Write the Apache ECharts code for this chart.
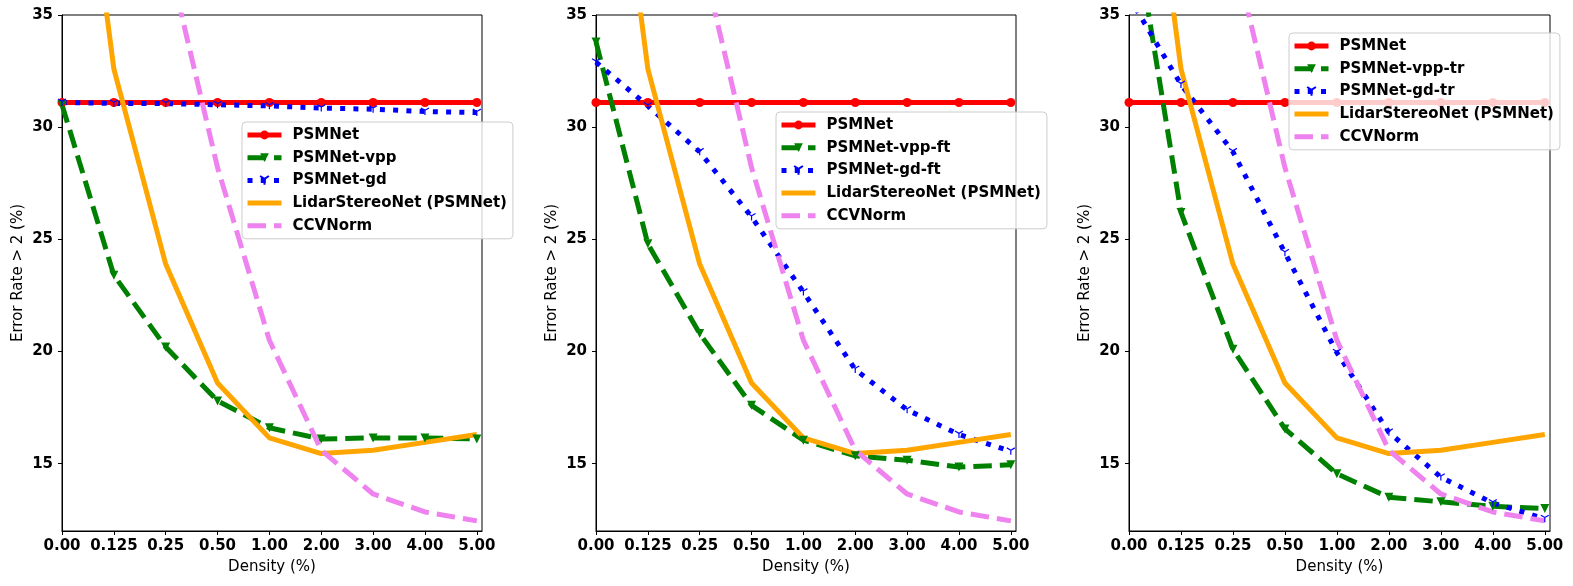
<!DOCTYPE html>
<html>
<head>
<meta charset="utf-8">
<script src="https://cdn.jsdelivr.net/npm/echarts@6/dist/echarts.min.js"></script>
<style>html,body{margin:0;padding:0;background:#fff}#c{width:1573px;height:586px}</style>
</head>
<body>
<div id="c"></div>
<script>
// ---- data ----
const categories = ['0.00','0.125','0.25','0.50','1.00','2.00','3.00','4.00','5.00'];
const yTicks = [15, 20, 25, 30, 35];
const psmnet  = [31.1, 31.1, 31.1, 31.1, 31.1, 31.1, 31.1, 31.1, 31.1];
const lidar   = [50.4, 32.6, 23.9, 18.6, 16.15, 15.45, 15.6, 15.95, 16.3];
const ccvnorm = [null, null, 38.0, 28.2, 20.5, 15.6, 13.65, 12.85, 12.45];
const vpp     = [31.0, 23.4, 20.2, 17.8, 16.6, 16.1, 16.15, 16.15, 16.1];
const gd      = [31.1, 31.06, 31.05, 31.0, 30.95, 30.85, 30.8, 30.7, 30.65];
const vppFt   = [33.8, 24.8, 20.8, 17.6, 16.05, 15.35, 15.15, 14.85, 14.95];
const gdFt    = [32.9, 30.95, 28.9, 26.0, 22.65, 19.2, 17.4, 16.3, 15.55];
const vppTr   = [40.4, 26.2, 20.1, 16.55, 14.55, 13.5, 13.3, 13.1, 13.0];
const gdTr    = [35.8, 31.9, 28.9, 24.4, 19.95, 16.4, 14.4, 13.25, 12.55];

const panels = [
  {vppName: 'PSMNet-vpp', gdName: 'PSMNet-gd', vpp: vpp, gd: gd},
  {vppName: 'PSMNet-vpp-ft', gdName: 'PSMNet-gd-ft', vpp: vppFt, gd: gdFt},
  {vppName: 'PSMNet-vpp-tr', gdName: 'PSMNet-gd-tr', vpp: vppTr, gd: gdTr}
];

// ---- layout / style ----
const FONT = 'DejaVu Sans';
const grids = [
  {left: 62, top: 15, width: 420, height: 516},
  {left: 596, top: 15, width: 420, height: 516},
  {left: 1129, top: 15, width: 421, height: 516}
];
const legendPos = [
  {left: 242, top: 122},
  {left: 776, top: 112},
  {left: 1289, top: 33}
];
const idx = categories.map((c, i) => i);
const toPts = arr => arr.map((v, i) => [i, v]);
const triDown = 'path://M10 10 L10 20 M10 10 L1.34 5 M10 10 L18.66 5';

const option = {
  animation: false,
  grid: grids.map(g => Object.assign({show: true, borderColor: '#000', borderWidth: 1, backgroundColor: 'transparent'}, g)),
  xAxis: grids.map((g, k) => ({
    type: 'value', gridIndex: k, min: 0, max: 8.1,
    name: 'Density (%)', nameLocation: 'middle', nameGap: 29,
    nameTextStyle: {fontFamily: FONT, fontSize: 15, color: '#000'},
    axisLine: {show: true, lineStyle: {color: '#000', width: 1}},
    axisTick: {show: true, length: 4, lineStyle: {color: '#000', width: 1}, customValues: idx},
    axisLabel: {customValues: idx, formatter: v => categories[Math.round(v)], fontFamily: FONT, fontWeight: 'bold', fontSize: 15, color: '#000', margin: 8},
    splitLine: {show: false}
  })),
  yAxis: grids.map((g, k) => ({
    type: 'value', gridIndex: k, min: 12, max: 35,
    name: 'Error Rate > 2 (%)', nameLocation: 'middle', nameGap: 36,
    nameTextStyle: {fontFamily: FONT, fontSize: 15, color: '#000'},
    axisLine: {show: true, lineStyle: {color: '#000', width: 1}},
    axisTick: {show: true, length: 4, lineStyle: {color: '#000', width: 1}, customValues: yTicks},
    axisLabel: {customValues: yTicks, fontFamily: FONT, fontWeight: 'bold', fontSize: 15, color: '#000', margin: 9},
    splitLine: {show: false}
  })),
  legend: panels.map((p, k) => Object.assign({
    orient: 'vertical',
    data: [
      {name: 'PSMNet'},
      {name: p.vppName},
      {name: p.gdName},
      {name: 'LidarStereoNet (PSMNet)', itemStyle: {opacity: 0}},
      {name: 'CCVNorm', itemStyle: {opacity: 0}}
    ],
    itemWidth: 34, itemHeight: 11, itemGap: 7.7,
    padding: [5.5, 6, 5.5, 3],
    backgroundColor: 'rgba(255,255,255,0.8)',
    borderColor: '#cccccc', borderWidth: 1, borderRadius: 4,
    selectedMode: false,
    lineStyle: {width: 5, cap: 'butt'},
    textStyle: {fontFamily: FONT, fontWeight: 'bold', fontSize: 15, color: '#000', lineHeight: 15, padding: [0, 0, 0, 6]}
  }, legendPos[k])),
  series: []
};

panels.forEach((p, k) => {
  option.series.push({
    name: 'PSMNet', type: 'line', xAxisIndex: k, yAxisIndex: k, data: toPts(psmnet),
    symbol: 'circle', symbolSize: 9, showAllSymbol: true,
    lineStyle: {color: '#ff0000', width: 5}, itemStyle: {color: '#ff0000'}
  });
  option.series.push({
    name: p.vppName, type: 'line', xAxisIndex: k, yAxisIndex: k, data: toPts(p.vpp),
    symbol: 'triangle', symbolRotate: 180, symbolSize: 9, showAllSymbol: true,
    lineStyle: {color: '#008000', width: 5, type: [18.5, 8], cap: 'butt'}, itemStyle: {color: '#008000'}
  });
  option.series.push({
    name: p.gdName, type: 'line', xAxisIndex: k, yAxisIndex: k, data: toPts(p.gd),
    symbol: triDown, symbolSize: 8, symbolKeepAspect: true, showAllSymbol: true,
    lineStyle: {color: '#0000ff', width: 5, type: [5, 8.25], cap: 'butt'},
    itemStyle: {color: 'rgba(0,0,0,0)', borderColor: '#0000ff', borderWidth: 1.2}
  });
  option.series.push({
    name: 'LidarStereoNet (PSMNet)', type: 'line', xAxisIndex: k, yAxisIndex: k, data: toPts(lidar),
    symbol: 'none',
    lineStyle: {color: '#ffa500', width: 5}, itemStyle: {color: '#ffa500'}
  });
  option.series.push({
    name: 'CCVNorm', type: 'line', xAxisIndex: k, yAxisIndex: k, data: toPts(ccvnorm),
    symbol: 'none',
    lineStyle: {color: '#ee82ee', width: 5, type: [18.5, 8], cap: 'butt'}, itemStyle: {color: '#ee82ee'}
  });
});

const chart = echarts.init(document.getElementById('c'), null, {renderer: 'canvas'});
chart.setOption(option);
</script>
</body>
</html>
